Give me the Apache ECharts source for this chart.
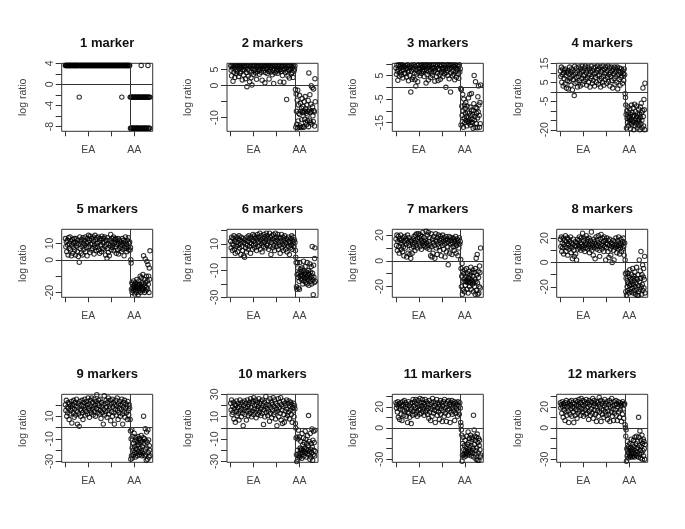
<!DOCTYPE html>
<html><head><meta charset="utf-8">
<style>html,body{margin:0;background:#fff}#c{width:685px;height:529px}</style>
<script src="https://cdn.jsdelivr.net/npm/echarts@6/dist/echarts.min.js"></script>
</head><body><div id="c"></div>
<script>
const titles=['1 marker','2 markers','3 markers','4 markers','5 markers','6 markers','7 markers','8 markers','9 markers','10 markers','11 markers','12 markers'];
const yMin=[-8.87,-14.25,-18.7,-20.8,-23,-30,-28.3,-28.6,-30.7,-30.7,-33,-33];
const yMax=[4,7,10.2,15,18.7,20.9,24.5,27.2,29.3,30,32,32];
const yTicks=[[-8,-6,-4,-2,0,2,4],[-10,-5,0,5],[-15,-10,-5,0,5,10],[-20,-15,-10,-5,0,5,10,15],[-20,-10,0,10],[-30,-20,-10,0,10,20],[-20,-10,0,10,20],[-20,-10,0,10,20],[-30,-20,-10,0,10,20],[-30,-20,-10,0,10,20,30],[-30,-20,-10,0,10,20,30],[-30,-20,-10,0,10,20,30]];
const yLabels=[[-8,-4,0,4],[-10,0,5],[-15,-5,5],[-20,-5,5,15],[-20,0,10],[-30,-10,10],[-20,0,20],[-20,0,20],[-30,-10,10],[-30,-10,10,30],[-30,0,20],[-30,0,20]];
const xTicks=[1,100,200,300];
const xNames={100:'EA',300:'AA'};
const boundary=281;

const ea1=[3.6,3.6,3.6,3.6,3.6,3.6,3.6,3.6,3.6,3.6,3.6,3.6,3.6,3.6,3.6,3.6,3.6,3.6,3.6,3.6,
3.6,3.6,3.6,3.6,3.6,3.6,3.6,3.6,3.6,3.6,-2.4,3.6,3.6,3.6,3.6,3.6,3.6,3.6,3.6,3.6,
3.6,3.6,3.6,3.6,3.6,3.6,3.6,3.6,3.6,3.6,3.6,3.6,3.6,3.6,3.6,3.6,3.6,3.6,3.6,3.6,
3.6,3.6,3.6,3.6,3.6,3.6,3.6,3.6,3.6,3.6,3.6,3.6,3.6,3.6,3.6,3.6,3.6,3.6,3.6,3.6,
3.6,3.6,3.6,3.6,3.6,3.6,3.6,3.6,3.6,3.6,3.6,3.6,3.6,3.6,3.6,3.6,3.6,3.6,3.6,3.6,
3.6,3.6,3.6,3.6,3.6,3.6,3.6,3.6,3.6,3.6,3.6,3.6,3.6,3.6,3.6,3.6,3.6,3.6,3.6,3.6,
3.6,3.6,-2.4,3.6,3.6,3.6,3.6,3.6,3.6,3.6,3.6,3.6,3.6,3.6,3.6,3.6,3.6,3.6,3.6,3.6];
const aa1=[-2.4,-8.3,-2.4,-8.3,-8.3,-2.4,-2.4,-8.3,-2.4,-8.3,-2.4,-8.3,-8.3,-2.4,-8.3,-2.4,-2.4,-8.3,-2.4,-8.3,
-8.3,-2.4,-8.3,-2.4,-2.4,-8.3,-8.3,-2.4,-2.4,-8.3,-2.4,-8.3,-2.4,3.6,-8.3,-2.4,-8.3,-2.4,-8.3,-2.4,
-2.4,-8.3,-8.3,-2.4,-8.3,-2.4,-2.4,-8.3,-2.4,-8.3,-8.3,-2.4,-2.4,3.6,-8.3,-2.4,-8.3,-2.4,-8.3,-2.4];

const ea2=[6.2,4.8,3.1,6.2,5.5,1.4,6.2,4.2,5.8,2.6,6.2,5.1,3.7,6.2,4.5,5.9,6.2,2.9,5.3,6.2,
3.9,6.2,4.4,5.6,6.2,1.8,5.0,6.2,3.3,4.9,6.2,5.7,2.2,6.2,4.1,-0.3,6.2,5.2,3.0,6.2,
4.6,1.2,5.9,6.2,2.5,4.3,0.2,6.2,5.4,3.5,6.2,4.7,6.2,5.0,4.0,6.2,2.0,5.8,4.4,6.2,
5.1,6.2,3.6,4.9,6.2,5.5,4.2,6.2,1.7,5.3,6.2,4.6,5.9,6.2,0.9,4.1,6.2,5.2,6.2,3.8,
5.6,6.2,4.5,2.1,6.2,5.0,6.2,4.3,5.7,6.2,3.4,6.2,4.8,0.7,5.4,6.2,4.0,6.2,5.8,4.6,
6.2,5.2,3.9,6.2,4.7,5.5,6.2,1.2,5.1,4.4,6.2,5.9,3.2,6.2,4.9,1.1,6.2,5.3,4.2,6.2,
5.6,-4.3,4.5,6.2,3.0,5.0,6.2,2.4,4.8,6.2,5.4,3.7,6.2,4.1,5.7,2.6,6.2,4.6,5.2,6.2];
const aa2=[-1.2,-13,-2.6,-8,-12,-4.5,-13.2,-1.4,-11,-6,-8.6,-13,-3,-9,-12.6,-5.5,-8,-13.1,-7,-10.6,
-4,-8.2,-12.8,-6.5,-8.4,-13,-5,-10.5,-8,-3.4,-11.5,-7.2,-8.6,-12.2,-6,-9.2,-11,-8,-4.6,-12.8,
4,-7.6,-10.8,-2.8,-8.4,-11.4,-5.8,0,-8,-12,-0.6,-6.6,-9.4,-11.2,-1,-7.8,-8.2,-12.6,2.2,-5];

const ea3=[8.2,5.5,9.4,6.8,3,7.6,9.6,4.8,8.8,6.2,9.5,7.1,5.2,8.5,9.6,3.9,7.4,9.1,6,8.7,
5.8,9.3,7.9,4.4,8.1,9.6,6.5,2.8,7.2,9,5,8.4,-2,9.5,6.9,3.4,8.6,4.2,7.7,9.6,
6.1,3.2,8.9,0.5,7.3,5.6,9.4,2.4,8,9.6,6.4,7.8,4.9,9.2,8.3,5.9,9.6,7,8.6,6.7,
9.5,4.6,7.5,8.9,9.6,1.8,7.1,5.4,8.2,9.6,3.1,6.6,8.8,9.3,7.4,4.1,9.6,6.2,8.5,5.1,
7.9,9.6,6.8,8.2,2.6,7.3,9.5,4.7,8.7,9.6,6,2.9,8.1,7.5,9.6,5.3,3.4,8.9,6.4,9.6,
7.7,4.5,8.3,9.6,6.9,5.7,9.2,8,0,6.3,9.6,7.2,5,8.6,9.6,3.6,7.8,9.4,-2,6.1,
8.4,9.6,4.9,7,9.1,5.5,8.8,3.2,9.6,6.7,8,4.3,9.3,7.4,5.8,8.9,3.8,9.6,6.5,7.9];
const aa3=[-0.5,-16,-1,-8,-12,-14.6,-3,-10,-17,-5,-13,-7.5,-15,-9,-11,-6.5,-14,-12.5,-16.4,-8,
-10.5,-14.5,-13,-4.5,-15.2,-11,-14,-3,-8.4,-16,-12,-15,-2.6,-9.6,-13.5,-15,-11.5,-17.4,-10,-7,
5,-14,-12.4,-17,2.4,-8.5,-15.4,-11,-9,-17.2,-13,-4,-10.4,0.6,-7.5,-12,-17,-6.5,-15.5,1];

const ea4=[11,8,13,5,9,12,3,10,7,11.5,4,12,8.5,2,10,6,11,1.5,9.5,5.5,
13,7,10.5,3.5,12,8,1,11,6.5,9,-2,13.5,4.5,10,7.5,12.5,5,2.5,11,8,
13,6,9.5,3,12,10.5,7,13.5,4,11,8.5,5.5,12.5,9,13.5,6.5,10,3.5,11.5,7.5,
13,5,9,12,2.5,10.5,7,13.5,8,4.5,11,6,12.5,9.5,3,13,7.5,10,5,11.5,
13.5,8.5,4,12,9,6,13,2.5,10.5,7,11.5,5,13.5,8,3.5,12,9.5,6.5,13,10,
4.5,11,7.5,13.5,5.5,9,12.5,3,10,8,13,6,11,2,12,9.5,7,13,4,10.5,
8,12,5,13,1.5,9,11,6.5,12.5,3.5,10,7.5,12,8.5,4.5,11,9.5,6,12,9];
const aa4=[-1,-3,-7,-12,-19,-10,-14,-16,-8,-13,-18,-11,-15,-13.5,-9,-16.5,-19.5,-12,-14.5,-7,
-17,-11,-15.5,-13,-8.5,-16,-20,-12.5,-6.5,-15,-18,-10.5,-14,-16.5,-7.5,-13,-19,-11.5,-15,-17.5,
-9,-14.5,-16,-12,-20,-8,-13.5,-17,-6,-11,-15,-19,-10,2,-13,-18,-4,-9.5,-20,4.5];

const ea5=[13,8,11,5,12,9,3,13.5,7,10,14,6,11.5,2.5,9,12.5,4,10.5,7.5,13,
6,11,3,13,8.5,10,5,12,2,9.5,-1.5,14,7,11,4,12.5,8,3,13.5,10,
6.5,12,9,14,5,10.5,7.5,2.5,13,11,15,8,12,4.5,14.5,9.5,6,13,10,7,
14,11.5,3.5,9,15,7.5,12.5,5.5,13.5,10,8,14,6,11,4,13,9,12,5,14.5,
7,10.5,13,6.5,11,14,8,3,12,9.5,1,13.5,7,4.5,10,2.5,12,8.5,15.5,6,
11,13,7.5,9,14,5.5,10.5,12.5,8,13,4,9.5,11.5,6,13,3.5,10,12,7,8.5,
11,5,9,13,6.5,10,12,2.5,8,11,14,7,9.5,5,12,8,13.5,6,10,11];
const aa5=[6,7.5,0,-2,-18,-14,-20,-15,-17,-19,-13,-16,-18,-15,-21,-17,-14,-19,-16,-20,
-12,-17,-15,-18,-21.5,-16,-13,-19,-17,-15,-10,-20,-16,-18,-11,-14,-19,-17,-9,-15,
2.5,-18,-12,-20,-16,0.5,-14,-19,-10,-17,-1,-13,-18,-3,-15,-10,-20,-5,-12,5.5];

const ea6=[12,7,15,10,5,14,9,16,6,12,3,13,8,15,11,4,14,9,16,7,
13,10,2,15,8,12,5,14,1,11,0,13,7,10,4,15,9,12,6,16,
14,8,11,3,15,10,13,6,17,9,12,16,7,14,10,15,5,13,17,8,
11,15,9,18,6,13,16,10,4,14,12,8,17,11,15,7,13,18,9,16,
10,14,6,12,18,8,15,2,11,16,13,7,17,9,14,5,12,18,10,15,
8,13,17,6,11,15,9,3,14,12,17,7,10,15,5,13,9,16,11,6,
14,10,4,13,8,15,12,2,11,7,14,9,16,6,12,10,15,8,13,11];
const aa6=[5,0,-4,-22,-24,-13,-4,-8,-15,-23,-12,-18,-24,-4,-14,-9,-16,-11,-13,-17,
-8,-14,-20,-10,-3,-15,-18,-12,-16,-7,-13,-19,-11,-15,-20,-4,-14,-17,-12,-10,
-21,-13,-16,-5,-18,-11,-15,-7,-20,-14,8,-12,-17,-28,-6,-15,-19,-1,7,-18];

const ea7=[17,12,20,8,15,19,11,6,17,14,20,9,16,13,7,18,11,4,15,19,
10,17,13,3,16,20,6,14,18,12,5,16,2,10,15,6,13,17,11,19,
14,8,20,16,12,21,10,17,15,21,13,18,11,20,16,9,19,14,22,12,
15,18,13,11,16,23,14,10,20,12,22,15,9,18,13,4,21,11,3,17,
6,14,19,12,2,16,21,10,15,5,18,13,20,11,16,8,19,14,4,17,
12,20,15,9,18,13,3,16,19,7,14,17,11,-3,15,19,6,13,18,10,
16,5,14,18,11,17,8,15,13,19,6,12,17,14,4,16,10,18,13,15];
const aa7=[1,-6,-20,-12,-2,-26,-8,-16,-22,-10,-14,-24,-7,-16,-19,-12,-16,-6,-22,-15,
-10,-17,-25,-13,-16,-8,-20,-14,-11,-17,-5,-22,-15,-9,-16,-18,-7,-12,-24,-17,
-9,-20,-14,-26,-6,-16,2,-23,-11,5,-17,-26,-8,-13,-25,-20,-4,-9,-21,10];

const ea8=[19,13,21,9,16,12,20,7,15,18,13,22,9,17,12,20,6,15,19,11,
17,13,21,8,16,12,3,15,19,10,5,14,17,7,13,2,16,19,11,14,
18,21,12,16,10,20,15,13,24,11,18,14,20,9,16,12,22,15,19,11,
17,13,20,8,15,18,12,25,10,16,14,6,19,12,17,3,15,21,13,11,
18,14,22,16,10,5,19,13,23,15,11,20,14,17,9,21,13,18,2,16,
12,20,15,9,18,4,14,19,11,6,16,13,0,15,18,10,2,14,17,12,
20,15,8,13,18,11,21,14,7,16,12,19,9,15,17,11,20,13,6,16];
const aa8=[2,-9,-24,-13,-27,-8,-20,-15,-23,-9,-17,-25,-12,-19,-6,-22,-14,-18,-24,-10,
-16,-21,-5,-13,-25,-18,-11,-23,-15,-8,-20,-26,-13,-17,-4,-22,-27,-14,-10,-27,
-19,-24,2,-16,-22,-7,-13,9,-20,-26,-10,-18,-2,-23,-12,-5,-21,-14,5,-25];

const ea9=[20,15,24,10,18,13,22,17,7,21,12,19,15,23,4,17,20,13,24,9,
16,22,11,19,25,14,3,18,21,12,1,23,16,10,20,15,24,13,7,19,
22,16,25,11,18,14,23,20,12,26,17,21,9,15,24,19,13,26,16,22,
11,18,25,14,20,10,23,17,29,13,21,16,24,19,12,25,15,8,22,18,
13,20,3,16,28,11,21,14,24,18,9,22,15,26,12,19,17,24,6,21,
14,25,10,18,22,13,3,20,16,24,11,19,26,15,7,21,13,17,23,10,
20,16,25,12,3,18,22,14,24,9,17,21,13,19,7,23,15,11,20,17];
const aa9=[7,-3,-28,-10,-25,-2,-18,-27,-8,-20,-14,-24,-5,-17,-22,-12,-26,-9,-19,-23,
-11,-16,-25,-13,-8,-21,-15,-10,-24,-18,-11,-22,-13,-7,-20,-25,-12,-17,-23,-9,
10,-14,-25,-10,-19,-1,-24,-12,-29,-4,-18,-13,-28,-2,-22,-11,-26,-16,-20,-25];

const ea10=[22,16,25,12,19,14,23,8,17,21,5,20,15,24,11,18,22,13,7,19,
25,15,21,10,17,23,13,2,20,16,24,12,18,22,7,15,25,19,11,21,
16,23,13,26,18,10,22,15,24,12,27,17,20,14,25,9,21,16,23,12,
19,26,14,22,17,11,24,18,13,25,20,3,16,23,10,19,28,14,21,17,
11,24,15,20,6,26,13,18,23,9,21,16,27,12,19,25,14,8,22,17,
2,20,15,26,10,18,23,13,27,7,21,16,4,19,24,12,5,22,15,20,
9,25,17,11,22,14,24,8,19,16,23,12,21,5,18,15,22,10,20,17];
const aa10=[4,0,-9,-24,-30,-8,-20,-28,-10,-2,-25,-23,-8,-26,-18,-20,-12,-24,-19,-27,
-5,-22,-15,-20,-9,-25,-13,-21,-18,-3,-22,-10,-26,-19,-14,-23,-7,-20,-16,11,
-24,-12,-21,-28,-5,-19,-26,-14,-22,-1,-17,-29,-11,-24,-3,-20,-13,-25,-2,-21];

const ea11=[24,19,22,15,25,10,20,23,8,18,24,13,21,7,25,17,22,12,26,16,
20,24,11,18,22,5,15,25,14,21,10,23,17,4,19,24,12,27,16,21,
25,13,19,27,15,23,11,20,26,17,22,13,28,18,24,14,21,27,16,19,
24,12,22,27,15,20,25,17,13,23,19,9,26,15,22,7,18,24,11,28,
20,14,25,17,21,5,23,16,27,12,19,24,15,22,8,20,26,13,18,24,
6,21,16,25,11,27,19,14,23,6,20,25,17,12,26,18,22,5,24,15,
21,26,13,19,23,16,25,7,20,14,24,18,22,11,25,16,21,13,24,19];
const aa11=[5,2,-2,-7,-32,-26,-15,-9,-26,-21,-28,-17,-25,-12,-22,-27,-19,-24,-8,-23,
-16,-25,-4,-21,-14,-26,-10,-19,-24,-7,-22,-13,-27,-9,-18,-24,-11,-20,12,-28,
-2,-16,-8,-25,-12,-22,-30,-9,-19,-6,-31,-14,-24,-10,-31,-17,-12,-21,-28,-26];

const ea12=[24,19,22,14,25,20,10,23,17,21,7,24,15,26,12,20,23,16,5,21,
25,13,22,18,26,11,20,24,15,5,19,23,12,26,17,21,9,25,14,22,
27,16,20,24,12,28,18,22,15,26,11,21,25,17,23,13,27,19,14,24,
20,8,26,16,22,12,25,18,24,14,28,9,21,26,17,23,13,20,6,25,
16,24,11,22,29,15,20,26,6,18,23,13,25,17,10,21,27,15,23,12,
19,25,8,16,22,13,26,6,20,24,15,28,11,21,18,7,25,14,22,17,
26,12,23,7,20,25,15,22,10,24,17,21,6,23,13,25,18,9,22,23];
const aa12=[3,0,-8,-2,-32,-20,-27,-13,-22,-29,-18,-24,-20,-27,-15,-22,-28,-19,-11,-25,
-23,-28,-16,-21,-27,-12,-24,-18,-28,-9,-22,-26,-15,-20,-8,-27,-23,-13,-19,-28,
10,-9,-25,-17,-3,-22,-29,-12,-18,-24,-7,-30,-15,-22,-11,-27,-13,-20,-30,-16];

const eaSets=[ea1,ea2,ea3,ea4,ea5,ea6,ea7,ea8,ea9,ea10,ea11,ea12];
const aaSets=[aa1,aa2,aa3,aa4,aa5,aa6,aa7,aa8,aa9,aa10,aa11,aa12];

const colLeft=[61.7,227,392.3,556.7], colW=91, rowTop=[63.3,229.3,394.3], rowH=68;
const titleY=[37,203,368];
const ink='#333', font='"Liberation Sans",Arial,sans-serif';
const grid=[],xAxis=[],yAxis=[],series=[],title=[];
titles.forEach((t,k)=>{
  const c=k%4,r=Math.floor(k/4),l=colLeft[c],tp=rowTop[r];
  grid.push({left:l,top:tp,width:colW,height:rowH,show:true,borderColor:'#333',borderWidth:1,backgroundColor:'transparent'});
  xAxis.push({type:'value',gridIndex:k,min:-15,max:380,axisLine:{show:false,onZero:false},splitLine:{show:false},minorTick:{show:false},
    axisTick:{show:true,length:5,lineStyle:{color:ink,width:1},customValues:xTicks},
    axisLabel:{show:true,color:'#444',fontFamily:font,fontSize:10.5,margin:13,hideOverlap:false,showMinLabel:true,showMaxLabel:true,
      customValues:[100,300],formatter:v=>xNames[v]||''}});
  yAxis.push({type:'value',gridIndex:k,min:yMin[k],max:yMax[k],axisLine:{show:false,onZero:false},splitLine:{show:false},
    axisTick:{show:true,length:6,lineStyle:{color:ink,width:1},customValues:yTicks[k]},
    axisLabel:{show:true,color:'#444',fontFamily:font,fontSize:10.5,rotate:90,margin:12,hideOverlap:false,showMinLabel:true,showMaxLabel:true,
      verticalAlign:'middle',align:'center',customValues:yLabels[k],formatter:v=>String(v)}});
  const pts=eaSets[k].map((y,i)=>[1+i*(279/139),y]).concat(aaSets[k].map((y,i)=>[boundary+1+i*1.46,y]));
  series.push({type:'scatter',xAxisIndex:k,yAxisIndex:k,data:pts,symbol:'circle',symbolSize:4.4,silent:true,animation:false,large:false,
    itemStyle:{color:'transparent',borderColor:'#000',borderWidth:1.05},
    markLine:{silent:true,animation:false,symbol:'none',label:{show:false},lineStyle:{color:'#333',width:1,type:'solid'},
      data:[{yAxis:0},{xAxis:boundary}]}});
  title.push({text:t,left:l+colW/2,top:titleY[r],padding:0,textAlign:'center',textStyle:{fontFamily:font,fontSize:13,fontWeight:'bold',color:'#111'}});
});
const chart=echarts.init(document.getElementById('c'),null,{renderer:'canvas'});
const nameLabels=titles.map((t,k)=>{
  const c=k%4,r=Math.floor(k/4);
  return {type:'text',x:colLeft[c]-39,y:rowTop[r]+rowH/2,rotation:Math.PI/2,silent:true,
    style:{text:'log ratio',fill:'#444',font:'10.5px '+font,align:'center',verticalAlign:'middle'}};
});
chart.setOption({animation:false,backgroundColor:'#fff',title,grid,xAxis,yAxis,series,graphic:nameLabels});
</script></body></html>
